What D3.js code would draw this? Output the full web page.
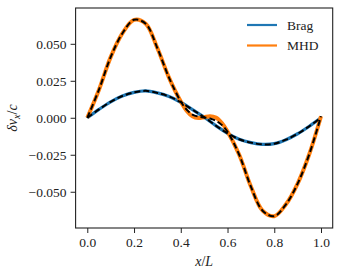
<!DOCTYPE html>
<html>
<head>
<meta charset="utf-8">
<script src="https://cdn.jsdelivr.net/npm/d3@7"></script>
<style>
  body { margin: 0; background: #fff; }
  #chart text { font-family: "Liberation Serif", "Times New Roman", serif !important; }
</style>
</head>
<body>
<svg id="chart" width="342" height="274"></svg>
<script>
// x positions along the box (x/L)
const xs = [0, 0.05, 0.1, 0.15, 0.2, 0.25, 0.3, 0.35, 0.4, 0.45, 0.5,
            0.55, 0.6, 0.65, 0.7, 0.75, 0.8, 0.85, 0.9, 0.95, 1.0];

// Braginskii run
const brag = [0, 0.0057, 0.0108, 0.0147, 0.0172, 0.0182, 0.0168, 0.0144, 0.0105, 0.0055, 0.0004,
              -0.0053, -0.0105, -0.0145, -0.0168, -0.0180, -0.0175, -0.0148, -0.0108, -0.0057, 0.0];

// MHD run (has a small wiggle around the middle)
const mhdX = [0, 0.05, 0.1, 0.15, 0.2, 0.25, 0.3, 0.35, 0.4, 0.425, 0.45, 0.475, 0.5,
              0.525, 0.55, 0.575, 0.6, 0.65, 0.7, 0.75, 0.8, 0.85, 0.9, 0.95, 1.0];
const mhd = [0, 0.019, 0.041, 0.057, 0.0662, 0.0636, 0.047, 0.027, 0.011, 0.0048, 0.0010, -0.0002, 0.0004,
             0.0011, 0.0002, -0.0034, -0.0092, -0.025, -0.0465, -0.0628, -0.0665, -0.0585, -0.0445, -0.0245, 0.001];

// reference (dashed) curves
const bragRef = brag;
const mhdRef = [0, 0.019, 0.041, 0.057, 0.0662, 0.0636, 0.047, 0.027, 0.011, 0.0055, 0.0022, 0.0008, 0.0002,
                -0.0005, -0.002, -0.0048, -0.0095, -0.025, -0.0465, -0.0628, -0.0665, -0.0585, -0.0445, -0.0245, 0.001];

const xTicks = [0, 0.2, 0.4, 0.6, 0.8, 1.0];
const yTicks = [-0.05, -0.025, 0, 0.025, 0.05];

const svg = d3.select("#chart");
const margin = {left: 75.6, right: 9.3, top: 8, bottom: 46};
const W = 342, H = 274;
const FONT = "Liberation Serif";

const x = d3.scaleLinear().domain([-0.05, 1.05]).range([margin.left, W - margin.right]);
const y = d3.scaleLinear().domain([-0.0745, 0.0742]).range([H - margin.bottom, margin.top]);

const fmtY = d => (d < 0 ? "\u2212" : "") + Math.abs(d).toFixed(3);

// axes
const xAxis = svg.append("g")
  .attr("transform", `translate(0,${H - margin.bottom})`)
  .call(d3.axisBottom(x).tickValues(xTicks).tickFormat(d3.format(".1f")).tickSize(5).tickPadding(4));

const yAxis = svg.append("g")
  .attr("transform", `translate(${margin.left},0)`)
  .call(d3.axisLeft(y).tickValues(yTicks).tickFormat(fmtY).tickSize(5).tickPadding(4));

[xAxis, yAxis].forEach(g => {
  g.attr("font-family", FONT).attr("font-size", 13.5);
  g.select(".domain").remove();
  g.selectAll(".tick line").attr("stroke", "#222").attr("stroke-width", 1);
  g.selectAll(".tick text").attr("font-family", FONT).attr("font-size", 13.5).attr("fill", "#222");
});

// clip to axes
svg.append("clipPath").attr("id", "clip")
  .append("rect")
  .attr("x", x.range()[0]).attr("y", y.range()[1])
  .attr("width", x.range()[1] - x.range()[0])
  .attr("height", y.range()[0] - y.range()[1]);

const line = d3.line()
  .x(d => x(d[0]))
  .y(d => y(d[1]))
  .curve(d3.curveCatmullRom.alpha(0.5));

const plot = svg.append("g").attr("clip-path", "url(#clip)");

plot.append("path")
  .datum(xs.map((v, i) => [v, brag[i]]))
  .attr("d", line).attr("fill", "none")
  .attr("stroke", "#1f77b4").attr("stroke-width", 3.2);

plot.append("path")
  .datum(mhdX.map((v, i) => [v, mhd[i]]))
  .attr("d", line).attr("fill", "none")
  .attr("stroke", "#ff7f0e").attr("stroke-width", 4);

plot.append("path")
  .datum(xs.map((v, i) => [v, bragRef[i]]))
  .attr("d", line).attr("fill", "none")
  .attr("stroke", "#000").attr("stroke-width", 2)
  .attr("stroke-dasharray", "6,3");

plot.append("path")
  .datum(mhdX.map((v, i) => [v, mhdRef[i]]))
  .attr("d", line).attr("fill", "none")
  .attr("stroke", "#000").attr("stroke-width", 2)
  .attr("stroke-dasharray", "6,3");

// frame
svg.append("rect")
  .attr("x", x.range()[0]).attr("y", y.range()[1])
  .attr("width", x.range()[1] - x.range()[0])
  .attr("height", y.range()[0] - y.range()[1])
  .attr("fill", "none").attr("stroke", "#222").attr("stroke-width", 1.1);

// axis labels
const xl = svg.append("text")
  .attr("x", (x.range()[0] + x.range()[1]) / 2).attr("y", 266)
  .attr("text-anchor", "middle").attr("font-size", 14)
  .attr("font-family", FONT).attr("fill", "#222");
xl.append("tspan").attr("font-style", "italic").text("x");
xl.append("tspan").text("/");
xl.append("tspan").attr("font-style", "italic").text("L");

const yl = svg.append("text")
  .attr("transform", `translate(17,${(y.range()[0] + y.range()[1]) / 2}) rotate(-90)`)
  .attr("text-anchor", "middle").attr("font-size", 14)
  .attr("font-family", FONT).attr("fill", "#222");
yl.append("tspan").attr("font-style", "italic").text("δv");
yl.append("tspan").attr("font-style", "italic").attr("font-size", 10).attr("dy", 3).text("x");
yl.append("tspan").attr("dy", -3).text("/");
yl.append("tspan").attr("font-style", "italic").text("c");

// legend
const legend = [{name: "Brag", color: "#1f77b4"}, {name: "MHD", color: "#ff7f0e"}];
const lg = svg.append("g").attr("transform", "translate(247,25)");
legend.forEach((d, i) => {
  lg.append("line")
    .attr("x1", 0).attr("x2", 30).attr("y1", i * 20.5).attr("y2", i * 20.5)
    .attr("stroke", d.color).attr("stroke-width", 2.2);
  lg.append("text")
    .attr("x", 40).attr("y", i * 20.5 + 4.5)
    .attr("font-family", FONT).attr("fill", "#222")
    .attr("font-size", 13.5).text(d.name);
});
</script>
</body>
</html>
